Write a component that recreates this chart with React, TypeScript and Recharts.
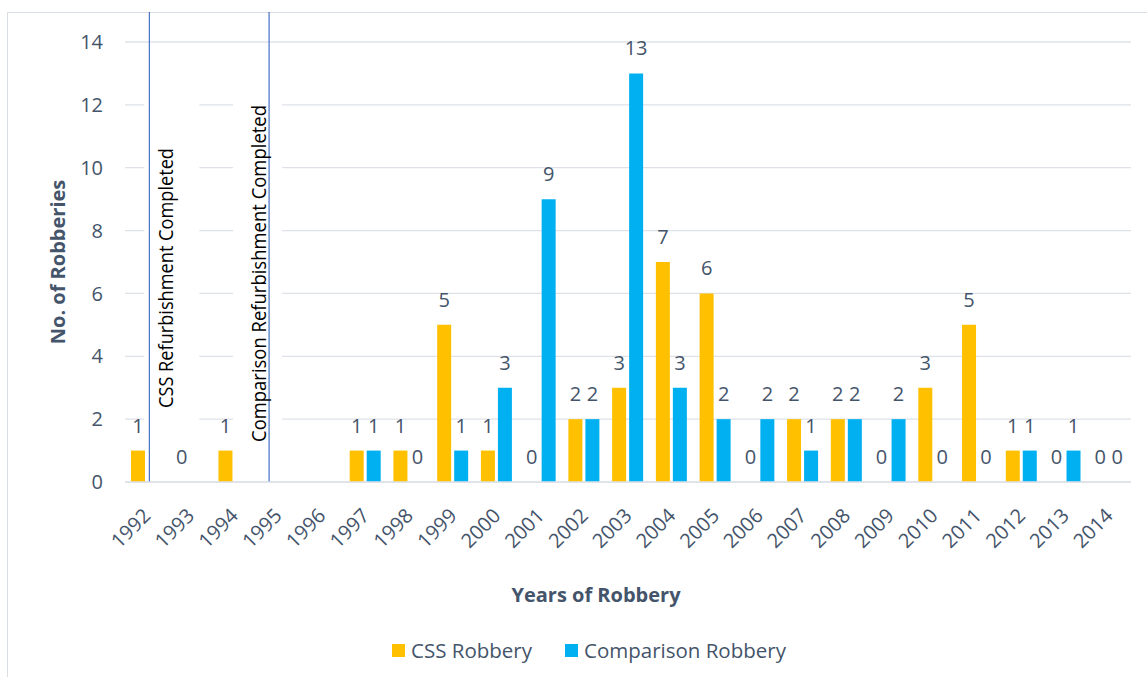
import React from 'react';
import {
  BarChart, Bar, XAxis, YAxis, CartesianGrid, LabelList, Legend, ReferenceLine, Label,
} from 'recharts';

const years = [
  '1992', '1993', '1994', '1995', '1996', '1997', '1998', '1999', '2000', '2001', '2002', '2003',
  '2004', '2005', '2006', '2007', '2008', '2009', '2010', '2011', '2012', '2013', '2014',
];
const cssRobbery = [1, 0, 1, null, null, 1, 1, 5, 1, 0, 2, 3, 7, 6, 0, 2, 2, 0, 3, 5, 1, 0, 0];
const comparisonRobbery = [null, null, null, null, null, 1, 0, 1, 3, 9, 2, 13, 3, 2, 2, 1, 2, 2, 0, 0, 1, 1, 0];
const yTicks = [0, 2, 4, 6, 8, 10, 12, 14];

const FONT = '"Open Sans", "Noto Sans", sans-serif';
const TEXT = '#44546A';
const GRID = '#DEE2E8';
const CSS_COLOR = '#FFC000';
const COMP_COLOR = '#00B0F0';
const EVENT_COLOR = '#4472C4';

const data = years.map((year, i) => ({
  year,
  css: cssRobbery[i],
  comparison: comparisonRobbery[i],
}));

// vertical marker + white text box, drawn relative to the reference line position
function eventShape(text: string, dx: number, boxL: number, boxW: number, textDx: number, textBottom: number, textLen: number) {
  return (props: any) => {
    const x = props.x1 + dx;
    const top = Math.min(props.y1, props.y2);
    const bottom = Math.max(props.y1, props.y2);
    return (
      <g>
        <rect x={x + boxL} y={top + 18} width={boxW} height={bottom - top - 55} fill="#fff" />
        <line x1={x} y1={top - 30} x2={x} y2={bottom} stroke={EVENT_COLOR} strokeWidth={1.2} />
        <text
          transform={`translate(${x + textDx},${bottom - textBottom}) rotate(-90)`}
          fontSize={19.5}
          fontFamily={FONT}
          fill="#000"
          textLength={textLen}
          lengthAdjust="spacingAndGlyphs"
        >
          {text}
        </text>
      </g>
    );
  };
}

// value labels, including the zeros
const ValueLabel = (props: any) => {
  const { x, y, width, value } = props;
  if (value === null || value === undefined) return null;
  return (
    <text x={x + width / 2} y={y - 18} textAnchor="middle" fontSize={20} fontFamily={FONT} fill={TEXT}>
      {value}
    </text>
  );
};

const zeroSize = (value: any) => (value === 0 ? 0.01 : 0);

const YearTick = (props: any) => {
  const { x, y, payload } = props;
  return (
    <text
      transform={`translate(${x + 5},${y + 35}) rotate(-45)`}
      textAnchor="end"
      fontSize={20}
      fontFamily={FONT}
      fill={TEXT}
    >
      {payload.value}
    </text>
  );
};

const YTitle = (props: any) => {
  const { viewBox } = props;
  const cy = viewBox.y + viewBox.height / 2;
  return (
    <text
      transform={`translate(65,${cy}) rotate(-90)`}
      textAnchor="middle"
      fontSize={20}
      fontWeight="bold"
      fontFamily={FONT}
      fill={TEXT}
    >
      No. of Robberies
    </text>
  );
};

const renderLegend = (props: any) => (
  <div style={{
    display: 'flex', justifyContent: 'center', gap: 33,
    fontFamily: FONT, fontSize: 20.5, color: TEXT,
  }}>
    {(props.payload || []).map((p: any) => (
      <div key={p.value} style={{ display: 'flex', alignItems: 'center' }}>
        <span style={{ display: 'inline-block', width: 13, height: 13, background: p.color, marginRight: 6 }} />
        <span>{p.value}</span>
      </div>
    ))}
  </div>
);

export default function App() {
  return (
    <div style={{
      position: 'absolute', left: 0, top: 0, width: 1147, height: 677,
      overflow: 'hidden', background: '#fff', fontFamily: FONT,
    }}>
      <div style={{
        position: 'absolute', left: 7, top: 12, width: 1200, height: 700,
        border: '1px solid #D9DEE5',
      }} />
      <BarChart
        width={1147}
        height={677}
        data={data}
        margin={{ top: 42, right: 16, bottom: 135, left: 0 }}
        barGap={3}
        barSize={14}
      >
        <CartesianGrid vertical={false} stroke={GRID} strokeWidth={1.3} />
        <XAxis
          dataKey="year"
          height={60}
          interval={0}
          tickLine={false}
          tickSize={0}
          tickMargin={0}
          axisLine={{ stroke: GRID, strokeWidth: 1.3 }}
          tick={<YearTick />}
        >
          <Label
            value="Years of Robbery"
            position="bottom"
            offset={46}
            dx={-32}
            fontSize={20}
            fontWeight="bold"
            fontFamily={FONT}
            fill={TEXT}
          />
        </XAxis>
        <YAxis
          width={125}
          domain={[0, 14]}
          ticks={yTicks}
          axisLine={false}
          tickLine={false}
          tickSize={0}
          tickMargin={22}
          tick={{ fontSize: 20, fill: TEXT, fontFamily: FONT }}
          label={<YTitle />}
        />
        <ReferenceLine
          x="1992"
          shape={eventShape('CSS Refurbishment Completed', 2.5, -5, 55, 24, 74, 260)}
        />
        <ReferenceLine
          x="1995"
          shape={eventShape('Comparison Refurbishment Completed', -9, -36, 49, -3, 40, 337)}
        />
        <Legend
          verticalAlign="middle"
          align="center"
          layout="horizontal"
          wrapperStyle={{ top: 636, left: 0, width: 1178, height: 28 }}
          content={renderLegend}
        />
        <Bar dataKey="css" name="CSS Robbery" fill={CSS_COLOR} minPointSize={zeroSize} isAnimationActive={false}>
          <LabelList dataKey="css" content={<ValueLabel />} />
        </Bar>
        <Bar dataKey="comparison" name="Comparison Robbery" fill={COMP_COLOR} minPointSize={zeroSize} isAnimationActive={false}>
          <LabelList dataKey="comparison" content={<ValueLabel />} />
        </Bar>
      </BarChart>
    </div>
  );
}
